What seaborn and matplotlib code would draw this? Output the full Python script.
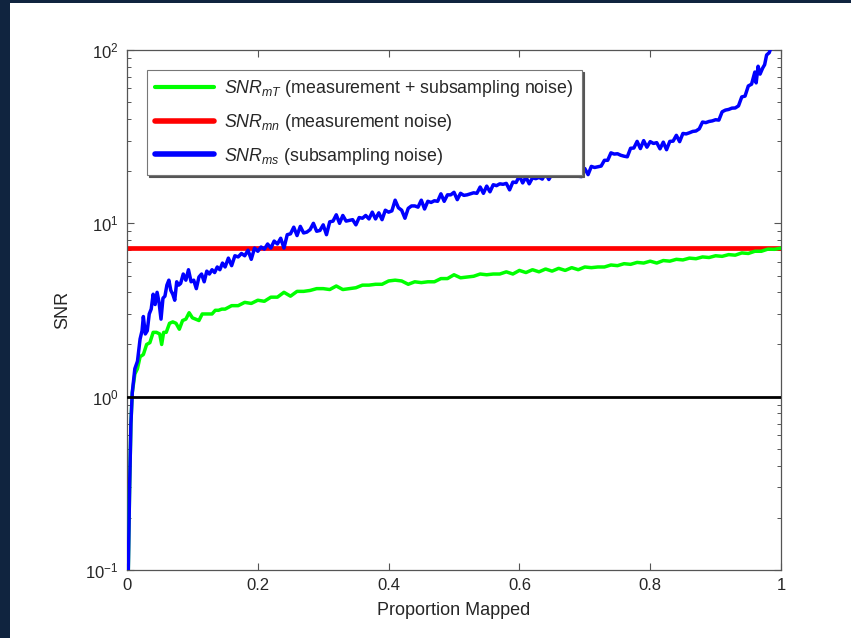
import numpy as np
import pandas as pd
import matplotlib
matplotlib.use("Agg")
import matplotlib.pyplot as plt
import seaborn as sns
from matplotlib.patches import Rectangle
from matplotlib.ticker import LogLocator, FixedLocator, FixedFormatter, NullFormatter

# ---------------- data ----------------
blue_x = [0.002, 0.004, 0.006, 0.008, 0.012, 0.016, 0.020, 0.023, 0.025, 0.028,
          0.031, 0.034, 0.037, 0.040, 0.043, 0.046, 0.049, 0.052, 0.055, 0.058,
          0.061, 0.064, 0.067, 0.070, 0.073, 0.076, 0.079, 0.082, 0.086, 0.090,
          0.094, 0.098, 0.102, 0.106, 0.110, 0.114, 0.118, 0.122, 0.126, 0.130,
          0.134, 0.138, 0.142, 0.146, 0.150, 0.155, 0.160, 0.165, 0.170, 0.175,
          0.180, 0.185, 0.190, 0.195, 0.200, 0.205, 0.210, 0.215, 0.220, 0.225,
          0.230, 0.235, 0.240, 0.245, 0.250, 0.255, 0.260, 0.265, 0.270, 0.275,
          0.280, 0.285, 0.290, 0.295, 0.300, 0.305, 0.310, 0.315, 0.320, 0.325,
          0.330, 0.335, 0.340, 0.345, 0.350, 0.355, 0.360, 0.365, 0.370, 0.375,
          0.380, 0.385, 0.390, 0.395, 0.400, 0.405, 0.410, 0.415, 0.420, 0.425,
          0.430, 0.435, 0.440, 0.445, 0.450, 0.455, 0.460, 0.465, 0.470, 0.475,
          0.480, 0.485, 0.490, 0.495, 0.500, 0.505, 0.510, 0.515, 0.520, 0.525,
          0.530, 0.535, 0.540, 0.545, 0.550, 0.555, 0.560, 0.565, 0.570, 0.575,
          0.580, 0.585, 0.590, 0.595, 0.600, 0.605, 0.610, 0.615, 0.620, 0.625,
          0.630, 0.635, 0.640, 0.645, 0.650, 0.655, 0.660, 0.665, 0.670, 0.675,
          0.680, 0.685, 0.690, 0.695, 0.700, 0.705, 0.710, 0.715, 0.720, 0.725,
          0.730, 0.735, 0.740, 0.745, 0.750, 0.755, 0.760, 0.765, 0.770, 0.775,
          0.780, 0.785, 0.790, 0.795, 0.800, 0.805, 0.810, 0.815, 0.820, 0.825,
          0.830, 0.835, 0.840, 0.845, 0.850, 0.855, 0.860, 0.865, 0.870, 0.875,
          0.880, 0.885, 0.890, 0.895, 0.900, 0.905, 0.910, 0.915, 0.920, 0.925,
          0.930, 0.935, 0.940, 0.945, 0.950, 0.955, 0.960, 0.962, 0.965, 0.968,
          0.972, 0.975, 0.978, 0.982, 0.985]
blue_y = [0.1, 0.3, 0.7, 1.05, 1.45, 1.6, 2.15, 2.4, 2.9, 2.3,
          2.4, 3.0, 3.2, 3.9, 3.4, 4.0, 3.5, 2.8, 3.7, 3.8,
          4.4, 4.7, 4.1, 3.9, 3.6, 4.6, 4.4, 4.5, 5.1, 4.7,
          5.4, 4.6, 4.7, 4.2, 4.9, 5.1, 4.6, 5.3, 5.1, 5.4,
          5.2, 5.6, 5.4, 5.9, 5.6, 6.3, 5.7, 6.5, 6.4, 6.7,
          6.5, 7.0, 6.2, 7.2, 6.9, 7.3, 7.1, 7.6, 7.2, 7.9,
          7.6, 8.2, 7.2, 8.6, 8.7, 9.5, 8.5, 9.6, 8.8, 8.9,
          9.2, 10.0, 9.0, 9.1, 9.8, 8.6, 10.2, 10.3, 11.2, 10.0,
          11.1, 10.3, 10.4, 10.5, 9.8, 10.8, 10.7, 11.1, 10.6, 11.6,
          10.6, 11.5, 10.5, 11.9, 11.6, 11.8, 13.6, 12.3, 11.9, 10.7,
          12.2, 12.6, 12.6, 12.4, 13.6, 12.1, 13.4, 13.2, 13.5, 13.4,
          14.8, 13.4, 14.6, 14.6, 15.1, 13.7, 14.9, 14.5, 14.6, 14.8,
          15.0, 14.9, 16.2, 14.9, 16.4, 15.2, 16.7, 16.5, 16.9, 16.8,
          17.0, 15.6, 17.3, 17.2, 18.8, 17.1, 18.5, 16.9, 18.3, 18.1,
          18.4, 18.0, 19.5, 17.9, 19.3, 19.0, 19.2, 19.2, 20.4, 18.8,
          19.1, 18.9, 18.7, 18.6, 20.7, 19.1, 21.3, 21.0, 21.2, 21.4,
          23.1, 23.1, 25.5, 25.1, 25.2, 24.7, 24.4, 24.2, 27.1, 27.2,
          29.7, 27.0, 30.0, 27.5, 29.6, 28.9, 29.2, 26.9, 29.4, 26.6,
          29.7, 29.8, 32.2, 29.6, 33.0, 32.8, 33.3, 33.9, 34.1, 35.1,
          38.4, 38.1, 38.7, 39.0, 39.6, 39.4, 44.0, 45.0, 45.4, 46.2,
          46.3, 47.6, 53.6, 54.2, 62.0, 63.5, 74.6, 64.6, 80.6, 72.6,
          78.7, 82.3, 93.6, 96.5, 104.0]

green_x = [0.002, 0.004, 0.006, 0.008, 0.012, 0.016, 0.020, 0.025, 0.030, 0.035,
           0.040, 0.045, 0.050, 0.053, 0.056, 0.060, 0.065, 0.070, 0.075, 0.080,
           0.085, 0.090, 0.095, 0.100, 0.105, 0.110, 0.115, 0.120, 0.125, 0.130,
           0.135, 0.140, 0.145, 0.150, 0.160, 0.170, 0.180, 0.190, 0.200, 0.210,
           0.220, 0.230, 0.240, 0.250, 0.260, 0.270, 0.280, 0.290, 0.300, 0.310,
           0.320, 0.330, 0.340, 0.350, 0.360, 0.370, 0.380, 0.390, 0.400, 0.410,
           0.420, 0.430, 0.440, 0.450, 0.460, 0.470, 0.480, 0.490, 0.500, 0.510,
           0.520, 0.530, 0.540, 0.550, 0.560, 0.570, 0.580, 0.590, 0.600, 0.610,
           0.620, 0.630, 0.640, 0.650, 0.660, 0.670, 0.680, 0.690, 0.700, 0.710,
           0.720, 0.730, 0.740, 0.750, 0.760, 0.770, 0.780, 0.790, 0.800, 0.810,
           0.820, 0.830, 0.840, 0.850, 0.860, 0.870, 0.880, 0.890, 0.900, 0.910,
           0.920, 0.930, 0.940, 0.950, 0.960, 0.970, 0.980, 0.990, 1.000]
green_y = [0.1, 0.3, 0.7, 1.05, 1.35, 1.45, 1.7, 1.75, 2.0, 2.05,
           2.35, 2.35, 2.3, 2.0, 2.35, 2.35, 2.65, 2.7, 2.65, 2.45,
           2.75, 2.8, 3.05, 2.85, 2.8, 2.75, 3.0, 3.0, 3.0, 3.0,
           3.15, 3.15, 3.2, 3.2, 3.35, 3.35, 3.5, 3.45, 3.6, 3.55,
           3.75, 3.75, 4.0, 3.8, 4.05, 4.05, 4.1, 4.2, 4.2, 4.15,
           4.35, 4.15, 4.2, 4.25, 4.4, 4.4, 4.45, 4.45, 4.65, 4.7,
           4.65, 4.45, 4.6, 4.55, 4.6, 4.6, 4.8, 4.8, 5.05, 4.85,
           4.9, 4.95, 5.1, 5.05, 5.1, 5.1, 5.25, 5.1, 5.35, 5.2,
           5.4, 5.25, 5.45, 5.3, 5.5, 5.35, 5.55, 5.4, 5.6, 5.55,
           5.6, 5.6, 5.75, 5.7, 5.85, 5.8, 5.95, 5.9, 6.05, 5.9,
           6.1, 6.05, 6.2, 6.15, 6.3, 6.25, 6.4, 6.35, 6.5, 6.45,
           6.6, 6.55, 6.75, 6.7, 6.9, 6.9, 7.1, 7.08, 7.2]

red_level = 7.2     # SNR_mn (measurement noise)
unity_level = 1.0   # reference line at SNR = 1

x_ticks = [0, 0.2, 0.4, 0.6, 0.8, 1]
x_tick_labels = ["0", "0.2", "0.4", "0.6", "0.8", "1"]

label_green = r"$SNR_{mT}$ (measurement + subsampling noise)"
label_red = r"$SNR_{mn}$ (measurement noise)"
label_blue = r"$SNR_{ms}$ (subsampling noise)"

# ---------------- style ----------------
sns.set_style("ticks")
plt.rcParams["font.family"] = ["Liberation Sans", "DejaVu Sans"]
plt.rcParams["mathtext.fontset"] = "custom"
plt.rcParams["mathtext.rm"] = "Liberation Sans"
plt.rcParams["mathtext.it"] = "Liberation Sans:italic"
plt.rcParams["mathtext.default"] = "it"

TXT = "#262626"
SPINE = "#555555"

fig = plt.figure(figsize=(8.51, 6.38), dpi=100)
fig.patch.set_facecolor("white")
navy = "#10243f"
fig.patches.append(Rectangle((0, 0), 10 / 851, 1, transform=fig.transFigure,
                             facecolor=navy, edgecolor="none", zorder=-10))
fig.patches.append(Rectangle((0, 1 - 3 / 638), 1, 3 / 638, transform=fig.transFigure,
                             facecolor=navy, edgecolor="none", zorder=-10))

ax = fig.add_axes([127 / 851, 1 - 570 / 638, 654 / 851, 520 / 638])

df_g = pd.DataFrame({"x": green_x, "y": green_y})
df_b = pd.DataFrame({"x": blue_x, "y": blue_y})

sns.lineplot(data=df_g, x="x", y="y", color="#00ff00", lw=2.5, ax=ax,
             estimator=None, sort=False, label=label_green, zorder=3)
ax.axhline(red_level, color="#ff0000", lw=3.4, label=label_red, zorder=2)
sns.lineplot(data=df_b, x="x", y="y", color="#0000ff", lw=2.5, ax=ax,
             estimator=None, sort=False, label=label_blue, zorder=4)
ax.axhline(unity_level, color="black", lw=2.0, zorder=5)

ax.set_yscale("log")
ax.set_xlim(0, 1)
ax.set_ylim(0.1, 100)
ax.xaxis.set_major_locator(FixedLocator(x_ticks))
ax.xaxis.set_major_formatter(FixedFormatter(x_tick_labels))
ax.yaxis.set_major_locator(LogLocator(base=10, numticks=10))
ax.yaxis.set_minor_locator(LogLocator(base=10, subs=np.arange(2, 10), numticks=20))
ax.yaxis.set_minor_formatter(NullFormatter())

ax.tick_params(axis="both", which="major", direction="in", length=5, width=0.8,
               colors=SPINE, labelcolor=TXT, labelsize=12, top=True, right=True, pad=6)
ax.tick_params(axis="y", which="minor", direction="in", length=3, width=0.7,
               colors=SPINE, right=True, left=True)
for s in ax.spines.values():
    s.set_color(SPINE)
    s.set_linewidth(0.9)

ax.set_xlabel("Proportion Mapped", fontsize=13, color=TXT, labelpad=6)
ax.set_ylabel("SNR", fontsize=13, color=TXT, labelpad=10)

leg = ax.legend(loc="upper left", bbox_to_anchor=((147 - 127) / 654, (570 - 70) / 520),
                borderaxespad=0, fontsize=12.8, frameon=True, fancybox=False,
                edgecolor="#777777", handlelength=3.3, handletextpad=0.6,
                labelspacing=0.72, borderpad=0.45,
                shadow={"ox": 1.5, "oy": -1.5, "color": "#555555", "alpha": 1.0})
leg.get_frame().set_linewidth(0.8)
for t in leg.get_texts():
    t.set_color(TXT)
lw_handles = [3.0, 4.0, 4.0]
for h, w in zip(leg.get_lines(), lw_handles):
    h.set_linewidth(w)

fig.savefig("out.png", dpi=100)
